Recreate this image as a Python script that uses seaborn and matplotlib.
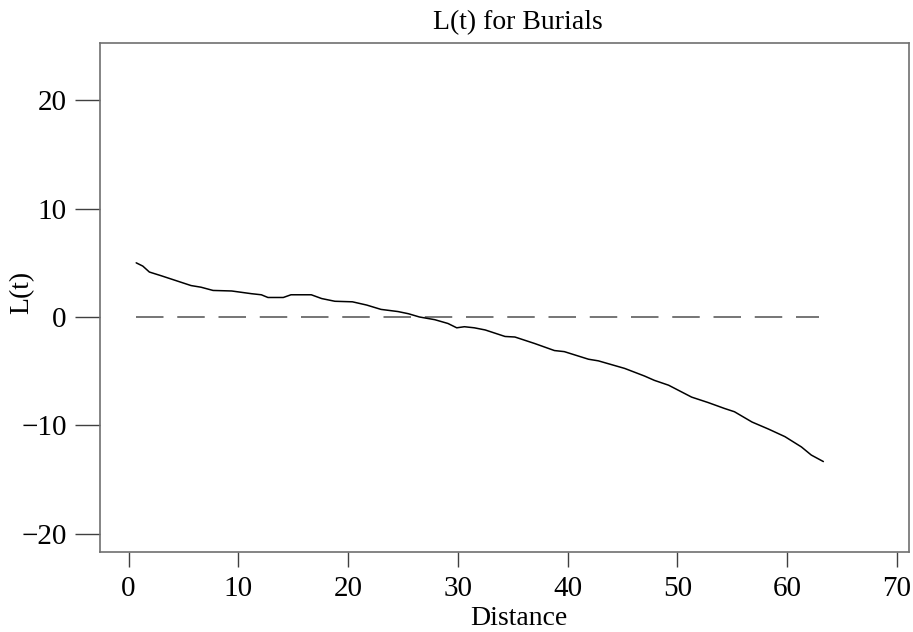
import matplotlib
matplotlib.use("Agg")
import matplotlib.pyplot as plt
import seaborn as sns
import pandas as pd

# L(t) estimate by distance
distance = [0.7, 1.3, 1.9, 3.0, 4.2, 5.7, 6.6, 7.7, 9.4, 11.2, 12.1, 12.7,
            14.1, 14.8, 16.65, 17.6, 18.8, 20.4, 21.7, 23.0, 24.55, 25.5,
            26.5, 27.9, 29.1, 29.9, 30.6, 31.5, 32.5, 34.3, 35.2, 37.0, 38.8,
            39.7, 41.9, 42.8, 45.2, 46.1, 47.0, 47.9, 49.2, 51.3, 52.8, 54.3,
            55.2, 56.8, 58.3, 59.8, 61.3, 62.2, 63.3]
l_t = [5.0, 4.7, 4.15, 3.8, 3.4, 2.9, 2.75, 2.45, 2.4, 2.15, 2.05, 1.8,
       1.8, 2.05, 2.05, 1.7, 1.45, 1.4, 1.1, 0.7, 0.5, 0.3,
       0.0, -0.25, -0.6, -1.0, -0.9, -1.0, -1.2, -1.8, -1.85, -2.45, -3.1,
       -3.2, -3.9, -4.05, -4.75, -5.1, -5.45, -5.85, -6.3, -7.4, -7.9, -8.45,
       -8.75, -9.7, -10.35, -11.05, -12.0, -12.75, -13.35]

# zero reference line under complete spatial randomness
ref_distance = [0.7, 62.9]
ref_value = [0.0, 0.0]

x_ticks = [0, 10, 20, 30, 40, 50, 60, 70]
y_ticks = [-20, -10, 0, 10, 20]

sns.set_theme(style="ticks")
plt.rcParams["font.family"] = ["Liberation Serif", "DejaVu Serif"]

fig = plt.figure(figsize=(9.13, 6.32), dpi=100)
ax = fig.add_axes([0.1095, 0.1266, 0.8861, 0.8054])

curve = pd.DataFrame({"Distance": distance, "L(t)": l_t})
ref = pd.DataFrame({"Distance": ref_distance, "L(t)": ref_value})

sns.lineplot(data=ref, x="Distance", y="L(t)", ax=ax, color="#505050",
             lw=1.1, estimator=None, sort=False)
ax.lines[-1].set_dashes((18, 9))
sns.lineplot(data=curve, x="Distance", y="L(t)", ax=ax, color="black",
             lw=1.1, estimator=None, sort=False)

ax.set_xlim(-2.6, 71.1)
ax.set_ylim(-21.7, 25.3)
ax.set_xticks(x_ticks)
ax.set_yticks(y_ticks)
ax.set_yticklabels([str(v).replace("-", "\u2212") for v in y_ticks])

for side in ["top", "right", "bottom", "left"]:
    ax.spines[side].set_visible(True)
    ax.spines[side].set_color("#707070")
    ax.spines[side].set_linewidth(1.2)

ax.tick_params(axis="x", direction="out", length=11, width=1.0,
               color="#404040", labelsize=21, pad=6, labelcolor="black")
ax.tick_params(axis="y", direction="out", length=18, width=1.0,
               color="#404040", labelsize=21, pad=6, labelcolor="black")

xl = ax.set_xlabel("Distance", fontsize=20, color="black")
yl = ax.set_ylabel("L(t)", fontsize=20, color="black")
xl.set_verticalalignment("baseline")
yl.set_verticalalignment("center")
yl.set_horizontalalignment("center")
ax.xaxis.set_label_coords(0.518, -0.143)
ax.yaxis.set_label_coords(-0.097, 0.51)
ax.set_title("L(t) for Burials", fontsize=20, pad=10, color="black", x=0.517)

fig.savefig("out.png", dpi=100, facecolor="white")
